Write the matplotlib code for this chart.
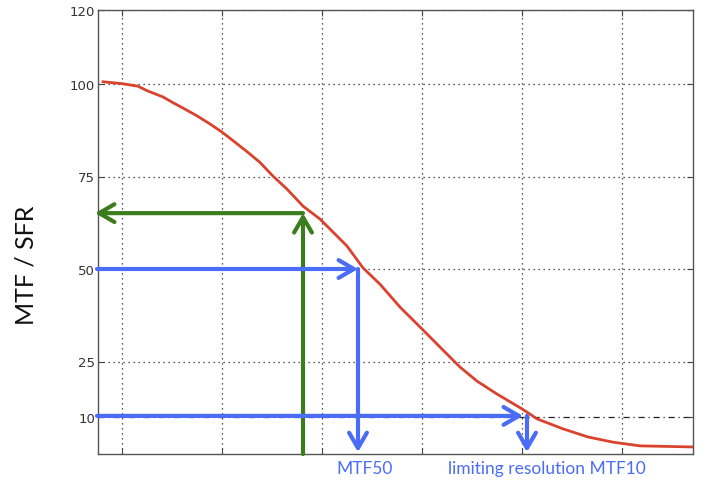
import matplotlib.pyplot as plt
from matplotlib.patches import FancyArrowPatch
import numpy as np

# curve (x in arbitrary frequency units, y in %)
freq = [0.81, 1.00, 1.16, 1.25, 1.41, 1.50, 1.63, 1.75, 1.88, 2.00, 2.11, 2.26,
        2.38, 2.51, 2.65, 2.81, 2.98, 3.25, 3.41, 3.58, 3.78, 4.00, 4.18, 4.38,
        4.55, 4.75, 5.00, 5.15, 5.41, 5.66, 5.91, 6.18, 6.71]
mtf = [100.6, 100.1, 99.4, 98.2, 96.5, 95.1, 93.2, 91.4, 89.2, 87.0, 84.7, 81.5,
       78.8, 75.1, 71.6, 67.0, 63.5, 56.2, 50.3, 45.9, 39.7, 33.8, 28.9, 23.5,
       19.7, 16.2, 12.2, 9.5, 6.8, 4.6, 3.2, 2.2, 1.9]

y_ticks = [10, 25, 50, 75, 100, 120]
x_grid = [1, 2, 3, 4, 5, 6]

# arrow markers
green_x, green_level = 2.81, 65.1
mtf50_x, mtf50_level = 3.36, 50
mtf10_x, mtf10_level = 5.05, 10.3

blue = "#4a6cf7"
green = "#3b7d1c"
red = "#d9432e"

fig = plt.figure(figsize=(7.12, 4.85), dpi=100)
ax = fig.add_axes([98 / 712, 30 / 485, 595 / 712, 444 / 485])

ax.set_xlim(0.76, 6.71)
ax.set_ylim(0, 120)
ax.set_yticks(y_ticks)
ax.set_xticks(x_grid)
ax.set_xticklabels([])
ax.tick_params(direction="in", top=True, right=True, length=4, width=0.8,
               colors="#444444", labelsize=9.5, labelcolor="#333333", pad=2)
for s in ax.spines.values():
    s.set_color("#555555")
    s.set_linewidth(1)

ax.grid(True, linestyle=(0, (1, 3)), color="#222222", linewidth=0.9)
ax.yaxis.get_gridlines()[0].set_linestyle((0, (5, 3, 1, 3)))

ax.plot(freq, mtf, color=red, linewidth=2, zorder=3)

xl = ax.get_xlim()


def arrow(p0, p1, color):
    a = FancyArrowPatch(p0, p1, arrowstyle="->, head_length=0.55, head_width=0.32",
                        mutation_scale=20, color=color, linewidth=3,
                        shrinkA=0, shrinkB=0, clip_on=False, zorder=4)
    ax.add_patch(a)


# green: up then left
arrow((green_x, 0), (green_x, green_level), green)
arrow((green_x, green_level), (xl[0] - 0.03, green_level), green)

# blue MTF50
arrow((xl[0] - 0.01, mtf50_level), (mtf50_x, mtf50_level), blue)
arrow((mtf50_x, mtf50_level), (mtf50_x, 0.5), blue)

# blue MTF10
arrow((xl[0] - 0.01, mtf10_level), (mtf10_x - 0.04, mtf10_level), blue)
arrow((mtf10_x, mtf10_level), (mtf10_x, 0.5), blue)

ax.text(3.43, -3.9, "MTF50", color=blue, fontsize=12.5, family="Lato",
        ha="center", va="center", clip_on=False)
ax.text(4.26, -3.9, "limiting resolution MTF10", color=blue, fontsize=12.5,
        family="Lato", ha="left", va="center", clip_on=False)

fig.text(26 / 712, 1 - 265 / 485, "MTF / SFR", rotation=90, fontsize=18,
         family="Lato", ha="center", va="center", color="#111111")

fig.savefig("out.png", dpi=100)
